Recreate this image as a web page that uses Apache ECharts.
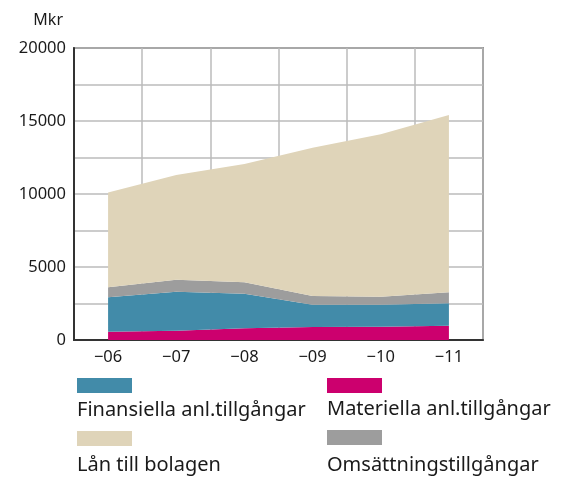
<!DOCTYPE html>
<html>
<head>
<meta charset="utf-8">
<script src="https://cdn.jsdelivr.net/npm/echarts@6/dist/echarts.min.js"></script>
<style>
  html, body { margin: 0; padding: 0; background: #fff; }
  #main { width: 561px; height: 477px; }
</style>
</head>
<body>
<div id="main"></div>
<script>
// data (Mkr)
const years = ['−06', '−07', '−08', '−09', '−10', '−11']
const materiella = [570, 640, 800, 890, 910, 980]
const finansiella = [2350, 2670, 2370, 1530, 1510, 1530]
const omsattning = [690, 820, 780, 590, 550, 760]
const lan = [6490, 7170, 8100, 10160, 11120, 12140]

const font = 'Noto Sans'
const colors = {
  fin: '#428BA9',
  mat: '#CC006E',
  lan: '#DFD4B9',
  oms: '#9D9D9D'
}

// legend item: swatch above the text, drawn with rich text
function legendItem(name, color, left, top, gap) {
  return {
    data: [name],
    left: left,
    top: top,
    padding: 0,
    icon: 'none',
    itemWidth: 0,
    itemGap: 0,
    selectedMode: false,
    formatter: '{sw|}\n{t|' + name + '}',
    textStyle: {
      rich: {
        sw: { backgroundColor: color, width: 55, height: 15 },
        t: { fontFamily: font, fontSize: 20, color: '#1a1a1a', padding: [gap, 0, 0, 0], lineHeight: 26 }
      }
    }
  }
}

function area(name, data, color) {
  return {
    name: name,
    type: 'line',
    stack: 'total',
    data: data,
    symbol: 'none',
    lineStyle: { width: 0 },
    areaStyle: { color: color, opacity: 1 },
    itemStyle: { color: color }
  }
}

const chart = echarts.init(document.getElementById('main'))
chart.setOption({
  animation: false,
  grid: {
    left: 74, right: 78, top: 48, bottom: 137,
    show: true, borderColor: '#444', borderWidth: 1.5
  },
  legend: [
    legendItem('Finansiella anl.tillgångar', colors.fin, 72, 378, 8),
    legendItem('Materiella anl.tillgångar', colors.mat, 322, 378, 7),
    legendItem('Lån till bolagen', colors.lan, 72, 431, 13),
    legendItem('Omsättningstillgångar', colors.oms, 322, 430, 15)
  ],
  xAxis: {
    type: 'category',
    data: years,
    boundaryGap: true,
    axisLine: { lineStyle: { color: '#333', width: 2 } },
    axisTick: { show: false },
    axisLabel: { fontFamily: font, fontSize: 16.5, color: '#1a1a1a', margin: 9 },
    splitLine: { show: true, lineStyle: { color: '#bbb', width: 1.5 } }
  },
  yAxis: {
    type: 'value',
    min: 0,
    max: 20000,
    interval: 2500,
    name: 'Mkr',
    nameGap: 20,
    nameTextStyle: { fontFamily: font, fontSize: 16, color: '#1a1a1a', align: 'right', padding: [0, 11, 0, 0] },
    axisLine: { show: true, lineStyle: { color: '#333', width: 2 } },
    axisTick: { show: false },
    axisLabel: {
      fontFamily: font, fontSize: 16.5, color: '#1a1a1a', margin: 8,
      formatter: v => (v % 5000 === 0 ? String(v) : '')
    },
    splitLine: { lineStyle: { color: '#bbb', width: 1.5 } }
  },
  series: [
    area('Materiella anl.tillgångar', materiella, colors.mat),
    area('Finansiella anl.tillgångar', finansiella, colors.fin),
    area('Omsättningstillgångar', omsattning, colors.oms),
    area('Lån till bolagen', lan, colors.lan)
  ]
})
</script>
</body>
</html>
